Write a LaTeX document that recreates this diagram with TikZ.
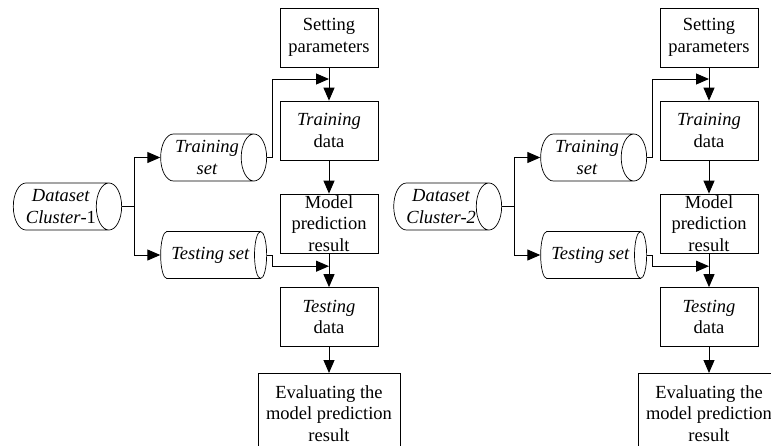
\documentclass[tikz,border=0pt]{standalone}
\usepackage{fontspec}
\setmainfont{Liberation Serif}
\usetikzlibrary{shapes.geometric,arrows.meta,calc}

\tikzset{
    box/.style={draw, line width=0.7pt, minimum width=98pt, minimum height=59pt, inner sep=0pt, align=center},
    drum/.style={draw, line width=0.7pt, cylinder, shape aspect=0.75, minimum width=47pt, minimum height=106pt, inner sep=0pt, align=center, anchor=east},
    txt/.style={align=center, inner sep=0pt}
}

\begin{document}
\begin{tikzpicture}[x=1pt, y=-1pt, >={Triangle[length=13pt,width=11pt]},
    font=\fontsize{18.5}{21.5}\selectfont]
    \useasboundingbox (0,0) rectangle (771,445);
    \clip (0,0) rectangle (771,445);

    \foreach \k/\dx/\clname in {1/0/{\textit{Cluster}-1}, 2/380/{\textit{Cluster-2}}} {
    \begin{scope}[xshift=\dx pt]
        % data sets
        \node[drum] (data\k) at (122,206.5) {\textit{Dataset}\\\clname};
        \node[drum] (train\k) at (267,157.5) {\textit{Training}\\\textit{set}};
        \node[drum] (test\k) at (267,255) {\textit{Testing set}};

        % processing chain
        \node[box] (param\k) at (329,37.5) {Setting\\parameters};
        \node[box] (trd\k) at (329,130.5) {\textit{Training}\\data};
        \node[box] (pred\k) at (329,223.5) {};
        \node[txt] (predt\k) at (pred\k) {Model\\prediction\\result};
        \node[box] (ted\k) at (329,317) {\textit{Testing}\\data};
        \node[box, minimum width=142pt, minimum height=95pt, anchor=north] (eval\k) at (329,373) {};
        \node[txt, anchor=north] (evalt\k) at ($(eval\k.north)+(0,12)$) {Evaluating the\\model prediction\\result};

        \coordinate (m\k a) at ($(param\k.south)!0.35!(trd\k.north)$);
        \coordinate (m\k b) at ($(pred\k.south)!0.38!(ted\k.north)$);

        % connectors
        \draw[line width=1pt] (data\k.east) -- ++(12,0) coordinate (j\k);
        \draw[->, line width=1pt] (j\k) |- (train\k.west);
        \draw[->, line width=1pt] (j\k) |- (test\k.west);
        \draw[->, line width=1pt] (train\k.east) -- ++(5,0) |- (m\k a);
        \draw[->, line width=1pt] (test\k.east) -- ++(5,0) |- (m\k b);
        \draw[->, line width=1pt] (param\k) -- (trd\k);
        \draw[->, line width=1pt] (trd\k) -- (pred\k);
        \draw[->, line width=1pt] (pred\k) -- (ted\k);
        \draw[->, line width=1pt] (ted\k) -- (eval\k);
    \end{scope}
    }
\end{tikzpicture}
\end{document}
